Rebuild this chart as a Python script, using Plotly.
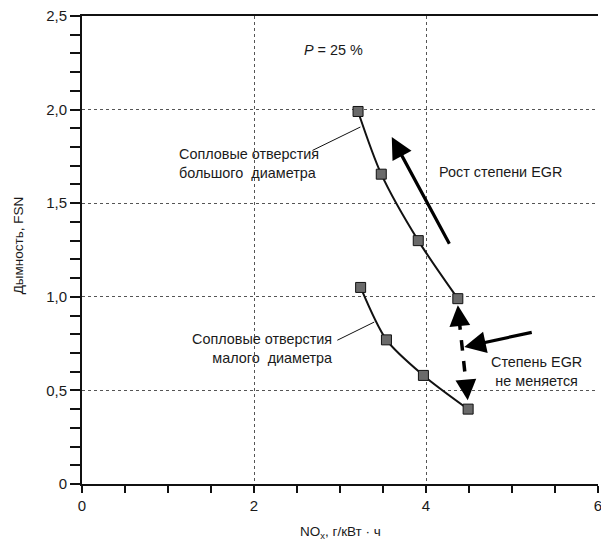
import plotly.graph_objects as go

# ---- data ----
nox_large = [3.21, 3.48, 3.91, 4.37]
fsn_large = [1.99, 1.655, 1.30, 0.99]
nox_small = [3.24, 3.54, 3.97, 4.49]
fsn_small = [1.05, 0.77, 0.58, 0.40]

y_tickvals = [0, 0.5, 1.0, 1.5, 2.0, 2.5]
y_ticktext = ["0", "0,5", "1,0", "1,5", "2,0", "2,5"]
x_tickvals = [0, 2, 4, 6]
x_ticktext = ["0", "2", "4", "6"]

FONT = "Liberation Sans Narrow, Arial Narrow, Liberation Sans, Arial, sans-serif"
TXT = "#1a1a1a"
FS = 14.4

fig = go.Figure()

marker = dict(symbol="square", size=10, color="#6a6a6a", line=dict(color="#111", width=1))
for xs, ys in [(nox_large, fsn_large), (nox_small, fsn_small)]:
    fig.add_trace(go.Scatter(
        x=xs, y=ys, mode="lines+markers",
        line=dict(color="#111", width=2, shape="spline", smoothing=0.8),
        marker=marker, showlegend=False, hoverinfo="skip"))

# leader lines
for (x0, y0, x1, y1) in [(2.68, 1.782, 3.237, 1.907), (2.969, 0.768, 3.398, 0.865)]:
    fig.add_shape(type="line", x0=x0, y0=y0, x1=x1, y1=y1, xref="x", yref="y",
                  line=dict(color="#111", width=1))

# dashed double arrow (shaft)
fig.add_shape(type="line", x0=4.385, y0=0.88, x1=4.47, y1=0.52, xref="x", yref="y",
              line=dict(color="#000", width=3.5, dash="dash"))

annots = []
# solid arrows
for (hx, hy, tx, ty) in [(3.602, 1.854, 4.281, 1.275), (4.445, 0.732, 5.247, 0.812)]:
    annots.append(dict(x=hx, y=hy, ax=tx, ay=ty, xref="x", yref="y", axref="x", ayref="y",
                       text="", showarrow=True, arrowhead=2, arrowsize=1.35, arrowwidth=3.2,
                       arrowcolor="#000"))
# heads of dashed arrow
for (hx, hy, tx, ty) in [(4.370, 0.955, 4.39, 0.86), (4.485, 0.447, 4.467, 0.54)]:
    annots.append(dict(x=hx, y=hy, ax=tx, ay=ty, xref="x", yref="y", axref="x", ayref="y",
                       text="", showarrow=True, arrowhead=2, arrowsize=1.3, arrowwidth=3.2,
                       arrowcolor="#000"))

def txt(x, y, s, xanchor="center", align="center"):
    annots.append(dict(x=x, y=y, xref="x", yref="y", text=s, showarrow=False,
                       xanchor=xanchor, yanchor="middle", align=align,
                       font=dict(family=FONT, size=FS, color=TXT)))

txt(2.93, 2.316, "<i>P</i> = 25 %")
txt(4.87, 1.665, "Рост степени EGR")
txt(5.29, 0.602, "Степень EGR<br>не меняется")
txt(1.105, 1.713, "Сопловые отверстия<br>большого  диаметра", xanchor="left", align="left")
txt(2.934, 0.725, "Сопловые отверстия<br>малого  диаметра", xanchor="right", align="right")

# axis titles
annots.append(dict(x=0, y=0.51, xref="paper", yref="paper", xshift=-64, textangle=-90,
                   text="Дымность, FSN", showarrow=False, xanchor="center", yanchor="middle",
                   font=dict(family=FONT, size=13.5, color=TXT)))
annots.append(dict(x=0.5, y=0, xref="paper", yref="paper", yshift=-48,
                   text="NO<sub>x</sub>, г/кВт · ч", showarrow=False, xanchor="center",
                   yanchor="middle", font=dict(family=FONT, size=13.5, color=TXT)))

fig.update_layout(
    width=601, height=543,
    margin=dict(l=82, r=3, t=16, b=59),
    paper_bgcolor="white", plot_bgcolor="white",
    font=dict(family=FONT, size=FS, color=TXT),
    annotations=annots,
)
fig.update_xaxes(
    range=[0, 6], tickvals=x_tickvals, ticktext=x_ticktext, ticklabeloverflow="allow",
    automargin=False,
    showline=True, linecolor="#111", linewidth=2, mirror=True,
    ticks="outside", ticklen=7, tickwidth=2, tickcolor="#111",
    minor=dict(dtick=0.5, ticks="outside", ticklen=7, tickwidth=2, tickcolor="#111", showgrid=False),
    showgrid=True, gridcolor="#555", griddash="dot", gridwidth=1.2,
    zeroline=False, tickfont=dict(size=15), fixedrange=True,
)
fig.update_yaxes(
    range=[0, 2.5], tickvals=y_tickvals, ticktext=y_ticktext,
    automargin=False,
    showline=True, linecolor="#111", linewidth=2,
    ticks="outside", ticklen=10, tickwidth=2, tickcolor="#111",
    minor=dict(dtick=0.1, ticks="outside", ticklen=10, tickwidth=2, tickcolor="#111", showgrid=False),
    showgrid=True, gridcolor="#555", griddash="dot", gridwidth=1.2,
    zeroline=False, tickfont=dict(size=15), fixedrange=True,
)

fig.write_html("out.html", config={"displayModeBar": False},
               post_script="document.body.style.margin='0';")
